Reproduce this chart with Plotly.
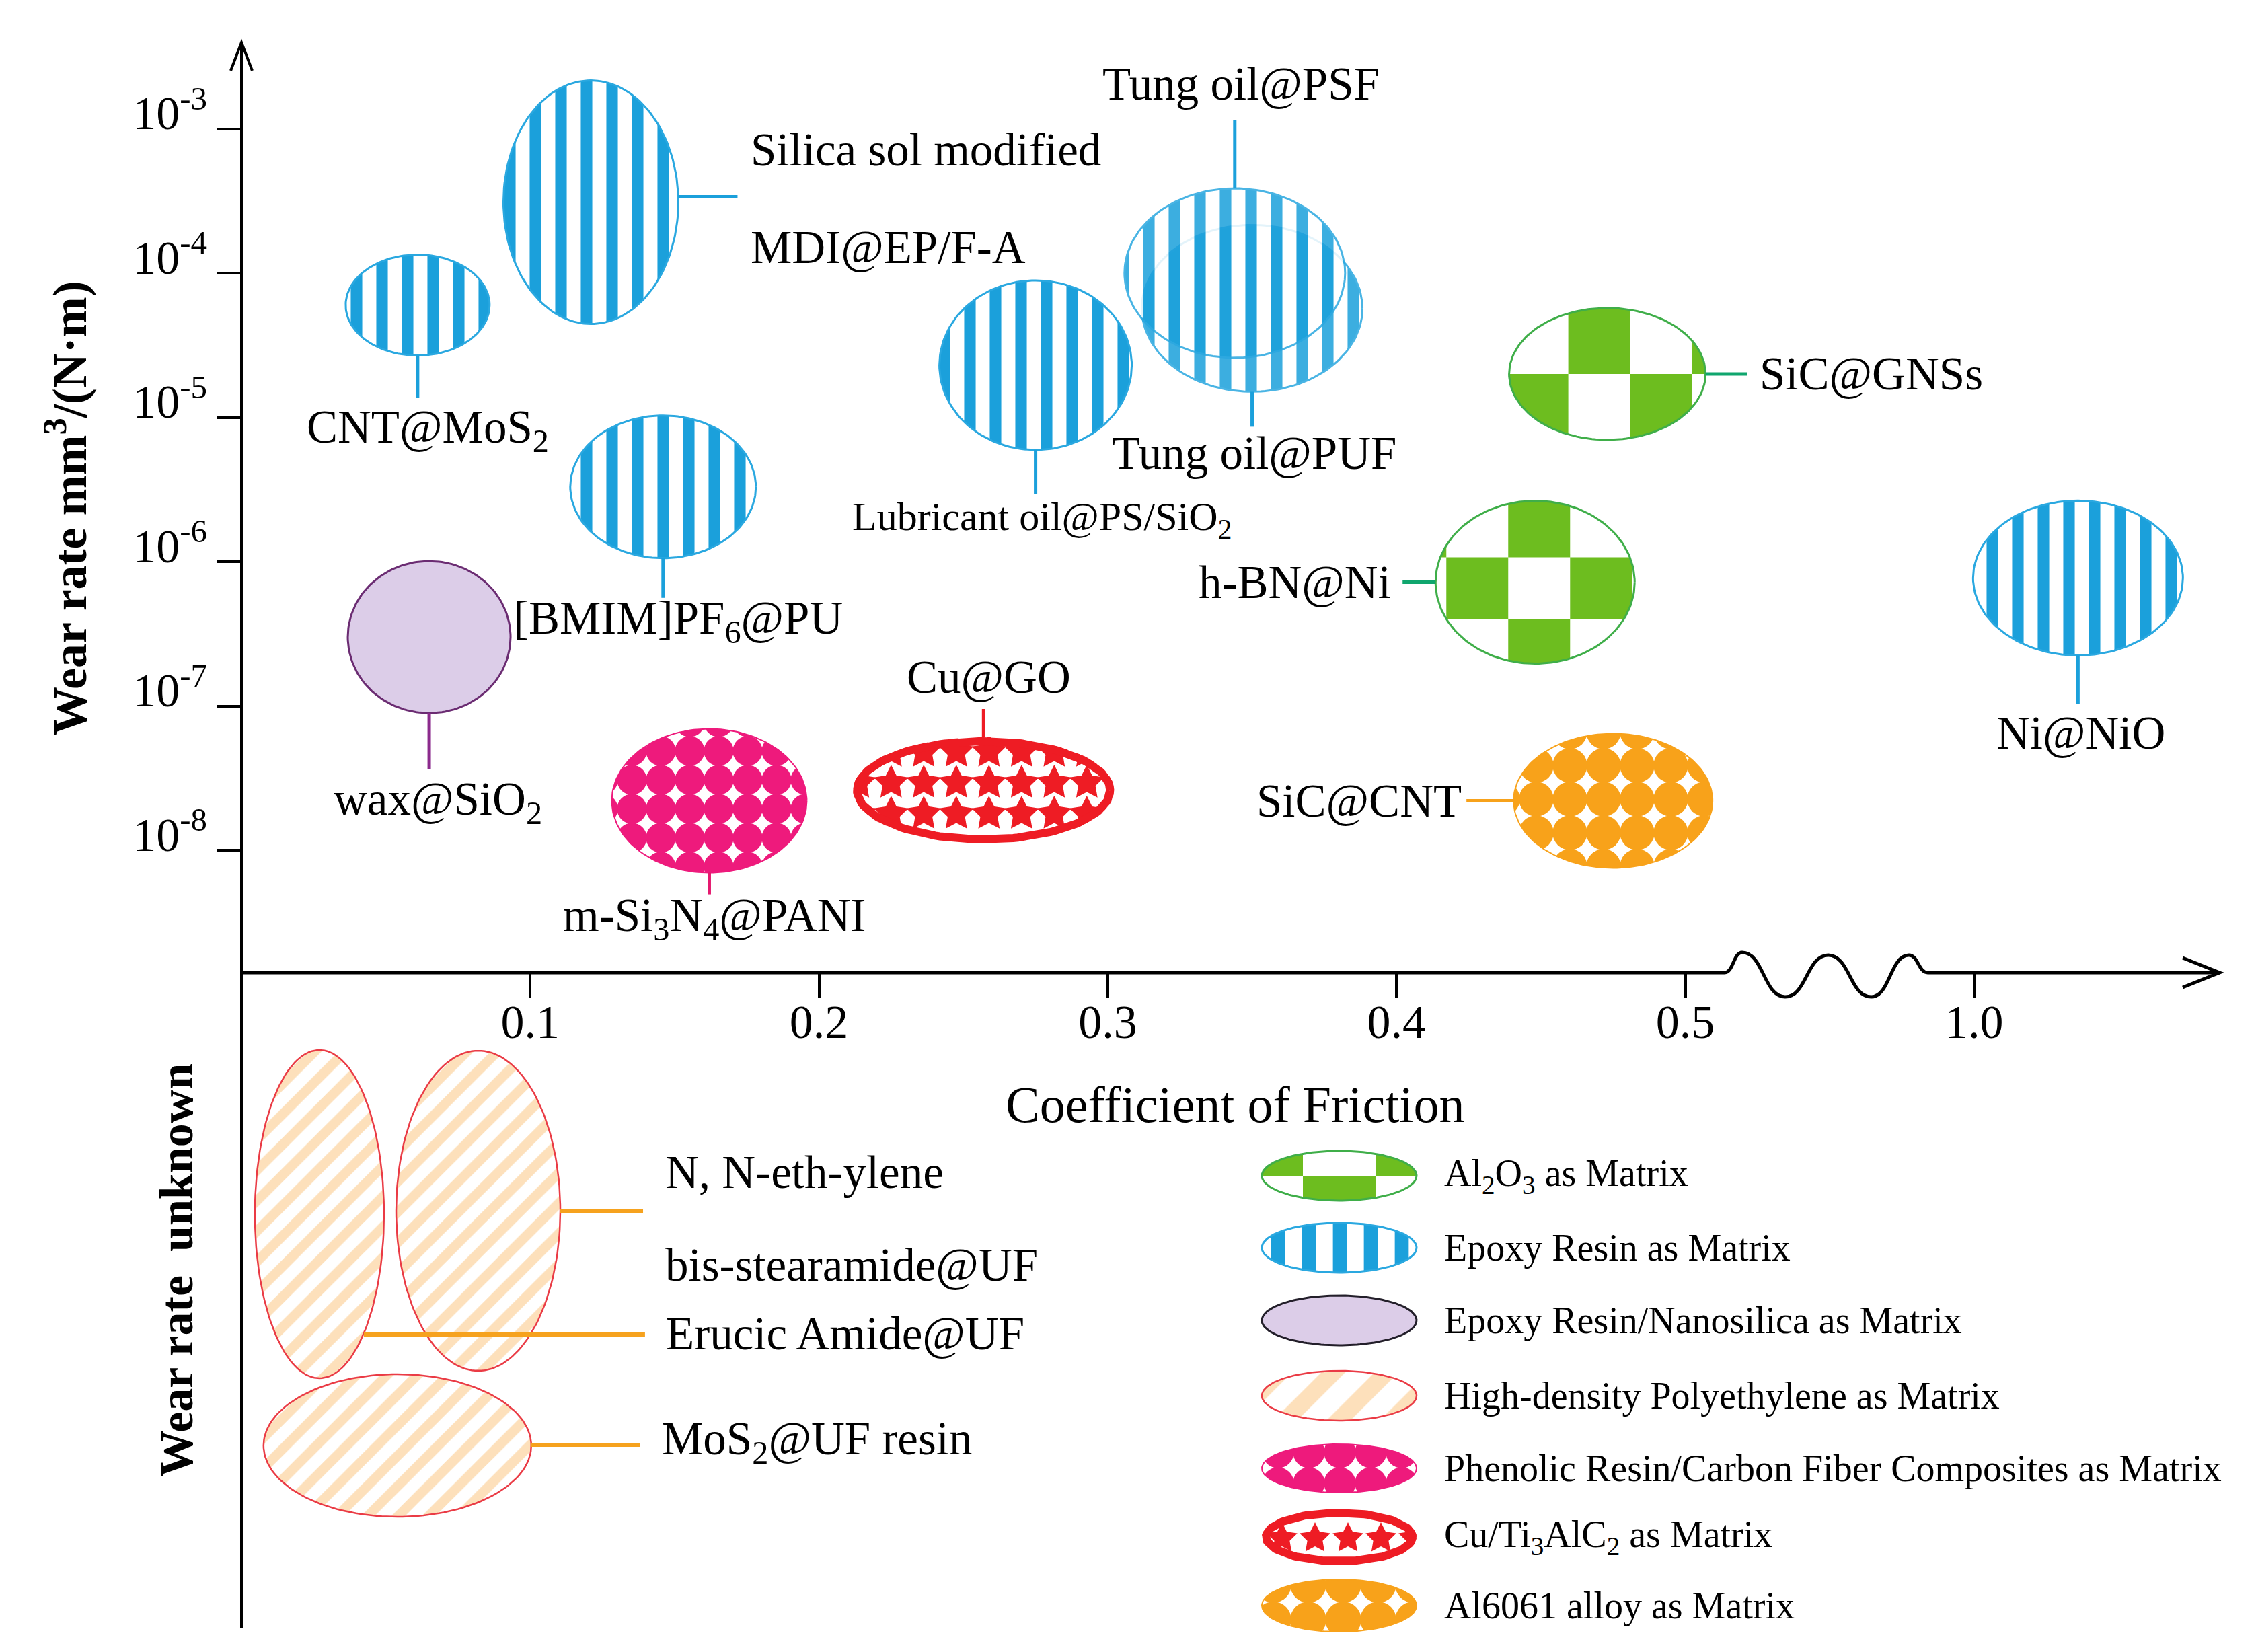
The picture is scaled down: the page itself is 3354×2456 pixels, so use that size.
import math
import numpy as np
import plotly.graph_objects as go

# ===================== DATA =====================
matrix_keys = ["al2o3", "epoxy", "nanosilica", "hdpe", "phenolic", "cu", "al6061"]
matrix_names = [
    "Al<sub>2</sub>O<sub>3</sub> as Matrix",
    "Epoxy Resin as Matrix",
    "Epoxy Resin/Nanosilica as Matrix",
    "High-density Polyethylene as Matrix",
    "Phenolic Resin/Carbon Fiber Composites as Matrix",
    "Cu/Ti<sub>3</sub>AlC<sub>2</sub> as Matrix",
    "Al6061 alloy as Matrix",
]

materials = [
    "CNT@MoS<sub>2</sub>",
    "Silica sol modified\nMDI@EP/F-A",
    "[BMIM]PF<sub>6</sub>@PU",
    "Lubricant oil@PS/SiO<sub>2</sub>",
    "Tung oil@PUF",
    "Tung oil@PSF",
    "Ni@NiO",
    "SiC@GNSs",
    "h-BN@Ni",
    "m-Si<sub>3</sub>N<sub>4</sub>@PANI",
    "Cu@GO",
    "SiC@CNT",
    "wax@SiO<sub>2</sub>",
]
material_matrix = ["epoxy", "epoxy", "epoxy", "epoxy", "epoxy", "epoxy", "epoxy",
                   "al2o3", "al2o3", "phenolic", "cu", "al6061", "nanosilica"]
friction_coef = [0.061, 0.121, 0.146, 0.275, 0.350, 0.344, 1.036,
                 0.473, 0.448, 0.162, 0.257, 0.475, 0.065]
wear_rate = [6.0e-5, 3.1e-4, 3.3e-6, 2.3e-5, 5.7e-5, 1.0e-4, 7.7e-7,
             2.0e-5, 7.2e-7, 2.2e-8, 2.6e-8, 2.2e-8, 3.0e-7]

unknown_materials = ["Erucic Amide@UF", "N, N-eth-ylene\nbis-stearamide@UF", "MoS<sub>2</sub>@UF resin"]
unknown_matrix = ["hdpe", "hdpe", "hdpe"]
unknown_cof = [0.027, 0.082, 0.054]

x_tick_vals = [0.1, 0.2, 0.3, 0.4, 0.5, 1.0]
x_tick_text = ["0.1", "0.2", "0.3", "0.4", "0.5", "1.0"]
y_tick_vals = [1e-3, 1e-4, 1e-5, 1e-6, 1e-7, 1e-8]
y_tick_text = ["10<sup>-3</sup>", "10<sup>-4</sup>", "10<sup>-5</sup>",
               "10<sup>-6</sup>", "10<sup>-7</sup>", "10<sup>-8</sup>"]

# ===================== LAYOUT CONSTANTS =====================
W, H = 3354, 2456
FONT = "Liberation Serif"
X0, K = 351.0, 4293.0          # pixel of COF 0 ; pixels per plot unit
Y8, D = 1256.0, 214.5          # pixel of 1e-8 ; pixels per decade
X_END, Y_TOP, X_AXIS_PY, Y_BOTTOM = 3292.0, 55.0, 1438.0, 2412.0
BREAK_FROM, BREAK_SHIFT = 0.55, 0.4


def plot_x(c):
    return c if c <= BREAK_FROM else c - BREAK_SHIFT


STYLE = {
    "epoxy": dict(kind="pattern", shape="|", fg="#1ba0db", size=38, sol=0.45, line="#2aa8e0", lw=3,
                  lsize=46, lead="#1ba0db"),
    "al2o3": dict(kind="checker", fg="#6dbd1f", line="#3fae49", lw=3, lead="#10a66e"),
    "nanosilica": dict(kind="solid", fg="#dccde8", line="#6b2c72", lline="#231f2a", lw=3, lead="#8b2a8c"),
    "hdpe": dict(kind="pattern", shape="/", fg="#fde0bb", size=32, sol=0.45, line="#ea3b45", lw=2.5,
                 lsize=56, lead="#f6a21e"),
    "phenolic": dict(kind="pattern", shape=".", fg="#ee1a7c", size=43, sol=0.8, line="#ee1a7c", lw=2,
                     lsize=46, lead="#e5196f"),
    "cu": dict(kind="stars", fg="#ee1c24", lw=12, lead="#ee1c24"),
    "al6061": dict(kind="pattern", shape=".", fg="#f8a21a", size=50, sol=0.8, line="#f8a21a", lw=2,
                   lsize=52, lead="#f7a21b"),
}

# per material: rx, ry (px), leader (dx1,dy1,dx2,dy2), label offsets per line (dx,dy,xanchor), font size
GEOM = [
    dict(r=(107, 75), lead=(0, 75, 0, 138), lab=[(15, 186, "center")], fs=69),
    dict(r=(130, 181), lead=(130, -8, 218, -8), lab=[(236, -78, "left"), (236, 67, "left")], fs=69),
    dict(r=(138, 106), lead=(0, 106, 0, 165), lab=[(22, 200, "center")], fs=69),
    dict(r=(143, 126), lead=(0, 126, 0, 192), lab=[(10, 230, "center")], fs=60),
    dict(r=(164, 124), lead=(0, 124, 0, 176), lab=[(3, 216, "center")], fs=69, op=0.85),
    dict(r=(164, 126), lead=(0, -126, 0, -227), lab=[(9, -281, "center")], fs=69, op=0.85),
    dict(r=(156, 115), lead=(0, 115, 0, 187), lab=[(4, 231, "center")], fs=69),
    dict(r=(146, 98), lead=(146, 0, 208, 0), lab=[(224, 0, "left")], fs=69, chk=(92, 98, -58, 0, 0)),
    dict(r=(148, 121), lead=(-148, 0, -197, 0), lab=[(-212, 0, "right")], fs=69, chk=(92, 92, -40, -55, 1)),
    dict(r=(145, 107), lead=(0, 107, 0, 139), lab=[(8, 175, "center")], fs=69),
    dict(r=(194, 79), lead=(0, -79, 0, -121), lab=[(8, -168, "center")], fs=69,
         stars=(48.5, 8, [-57, -11, 35], 27)),
    dict(r=(148, 100), lead=(-148, 0, -218, 0), lab=[(-223, 0, "right")], fs=69),
    dict(r=(121, 113), lead=(0, 113, 0, 196), lab=[(13, 245, "center")], fs=69),
]
UNK_GEOM = [
    dict(y2=659, r=(96, 244), lead=(66, 179, 484, 179), lab=[(513, 178, "left")], fs=69),
    dict(y2=664, r=(122, 238), lead=(122, 1, 245, 1), lab=[(276, -57, "left"), (276, 81, "left")], fs=69),
    dict(y2=315, r=(199, 106), lead=(198, -1, 361, -1), lab=[(391, -6, "left")], fs=69),
]
LEG_ROWS = [1740, 1847, 1955, 2067, 2175, 2277, 2379]
LEG_RY = [37, 37, 37, 37, 36, 42, 39]
LEG_CX, LEG_RX, LEG_TX = 1983, 115, 2137

fig = go.Figure()


def px_to_data(xs, ys, panel):
    xs = np.asarray(xs, float)
    ys = np.asarray(ys, float)
    x = (xs - X0) / K
    y = 10 ** (-8 + (Y8 - ys) / D) if panel == "main" else H - ys
    return x, y


def ann_xy(px, py, panel):
    x = (px - X0) / K
    y = (-8 + (Y8 - py) / D) if panel == "main" else H - py
    return x, y


def ellipse_poly(cx, cy, rx, ry, n=160):
    t = np.linspace(0, 2 * math.pi, n, endpoint=False)
    return list(zip(cx + rx * np.cos(t), cy + ry * np.sin(t)))


def shoelace(p):
    return sum(p[i][0] * p[(i + 1) % len(p)][1] - p[(i + 1) % len(p)][0] * p[i][1] for i in range(len(p)))


def inter(p, q, a, b):
    d1 = (q[0] - p[0], q[1] - p[1])
    d2 = (b[0] - a[0], b[1] - a[1])
    den = d1[0] * d2[1] - d1[1] * d2[0]
    if abs(den) < 1e-12:
        return q
    t = ((a[0] - p[0]) * d2[1] - (a[1] - p[1]) * d2[0]) / den
    return (p[0] + t * d1[0], p[1] + t * d1[1])


def clip(subject, cpoly):
    s = 1 if shoelace(cpoly) > 0 else -1
    out = list(subject)
    n = len(cpoly)
    for i in range(n):
        if not out:
            break
        a, b = cpoly[i], cpoly[(i + 1) % n]

        def ins(p):
            return s * ((b[0] - a[0]) * (p[1] - a[1]) - (b[1] - a[1]) * (p[0] - a[0])) >= 0
        inp, out = out, []
        prev = inp[-1]
        for cur in inp:
            if ins(cur):
                if not ins(prev):
                    out.append(inter(prev, cur, a, b))
                out.append(cur)
            elif ins(prev):
                out.append(inter(prev, cur, a, b))
            prev = cur
    return out


def add_polys(polys, panel, **kw):
    X, Y = [], []
    for poly in polys:
        if len(poly) < 3:
            continue
        xs, ys = zip(*poly)
        x, y = px_to_data(xs, ys, panel)
        X += list(x) + [x[0], None]
        Y += list(y) + [y[0], None]
    if X:
        fig.add_trace(go.Scatter(x=X, y=Y, xaxis="x", yaxis="y" if panel == "main" else "y2",
                                 mode="lines", fill="toself", hoverinfo="skip", showlegend=False, **kw))


def star_poly(x, y, R, ratio=0.5):
    pts = []
    for k in range(10):
        ang = -math.pi / 2 + k * math.pi / 5
        rr = R if k % 2 == 0 else R * ratio
        pts.append((x + rr * math.cos(ang), y + rr * math.sin(ang)))
    return pts


def draw_ellipse(cx, cy, rx, ry, key, panel, legend=False, chk=None, stars=None, op=1.0):
    st = STYLE[key]
    poly = ellipse_poly(cx, cy, rx, ry)
    if st["kind"] == "pattern":
        size = st["lsize"] if legend else st["size"]
        add_polys([poly], panel, fillcolor="white", opacity=op,
                  fillpattern=dict(shape=st["shape"], fgcolor=st["fg"], bgcolor="white", fgopacity=1,
                                   size=size, solidity=st["sol"], fillmode="replace"),
                  line=dict(color=st["line"], width=st["lw"]))
    elif st["kind"] == "solid":
        lc = st.get("lline", st["line"]) if legend else st["line"]
        add_polys([poly], panel, fillcolor=st["fg"], line=dict(color=lc, width=st["lw"]))
    elif st["kind"] == "checker":
        cw, ch, xo, yo, ph = chk
        add_polys([poly], panel, fillcolor="white", line=dict(width=0))
        cells = []
        for i in range(-5, 6):
            for j in range(-5, 6):
                if (i + j + ph) % 2 == 0:
                    x1 = xo + i * cw
                    x2 = x1 + cw
                    y1 = yo + j * ch
                    y2 = y1 + ch
                    sq = [(cx + x1, cy - y1), (cx + x2, cy - y1), (cx + x2, cy - y2), (cx + x1, cy - y2)]
                    c = clip(sq, poly)
                    if len(c) >= 3:
                        cells.append(c)
        add_polys(cells, panel, fillcolor=st["fg"], line=dict(width=0))
        add_polys([poly], panel, fillcolor="rgba(0,0,0,0)", line=dict(color=st["line"], width=st["lw"]))
    elif st["kind"] == "stars":
        sx, xo, rows, R = stars
        add_polys([poly], panel, fillcolor="white", line=dict(width=0))
        sp = []
        for dy in rows:
            for k in range(-6, 7):
                c = clip(star_poly(cx + xo + k * sx, cy + dy, R), poly)
                if len(c) >= 3:
                    sp.append(c)
        add_polys(sp, panel, fillcolor=st["fg"], line=dict(width=0))
        inner = ellipse_poly(cx, cy, rx - st["lw"] / 2, ry - st["lw"] / 2)
        add_polys([inner], panel, fillcolor="rgba(0,0,0,0)", line=dict(color=st["fg"], width=st["lw"]))


annotations = []
leaders = []


def label_item(cx, cy, g, text, key, panel):
    dx1, dy1, dx2, dy2 = g["lead"]
    leaders.append(([cx + dx1, cx + dx2], [cy + dy1, cy + dy2], STYLE[key]["lead"], panel,
                    6 if key == "hdpe" else 5))
    for line_txt, (ldx, ldy, xa) in zip(text.split("\n"), g["lab"]):
        ax, ay = ann_xy(cx + ldx, cy + ldy, panel)
        annotations.append(dict(x=ax, y=ay, xref="x", yref="y" if panel == "main" else "y2",
                                text=line_txt, showarrow=False, xanchor=xa, yanchor="middle",
                                font=dict(family=FONT, size=g["fs"], color="black")))


# ---- materials with known wear rate ----
for name, key, c, w, g in zip(materials, material_matrix, friction_coef, wear_rate, GEOM):
    cx = X0 + plot_x(c) * K
    cy = Y8 - (math.log10(w) + 8) * D
    draw_ellipse(cx, cy, g["r"][0], g["r"][1], key, "main", chk=g.get("chk"), stars=g.get("stars"),
                 op=g.get("op", 1.0))
    label_item(cx, cy, g, name, key, "main")

# ---- wear rate unknown ----
for name, key, c, g in zip(unknown_materials, unknown_matrix, unknown_cof, UNK_GEOM):
    cx = X0 + plot_x(c) * K
    cy = H - g["y2"]
    draw_ellipse(cx, cy, g["r"][0], g["r"][1], key, "low")
    label_item(cx, cy, g, name, key, "low")

for xs, ys, col, panel, lw in leaders:
    x, y = px_to_data(xs, ys, panel)
    fig.add_trace(go.Scatter(x=x, y=y, xaxis="x", yaxis="y" if panel == "main" else "y2", mode="lines",
                             line=dict(color=col, width=lw), hoverinfo="skip", showlegend=False))

# ---- legend (manual swatches) ----
for key, lname, ry_, yrow in zip(matrix_keys, matrix_names, LEG_RY, LEG_ROWS):
    draw_ellipse(LEG_CX, yrow, LEG_RX, ry_, key, "low", legend=True,
                 chk=(109, 40, -54, 0, 1), stars=(49, 13, [2], 24))
    ax, ay = ann_xy(LEG_TX, yrow, "low")
    annotations.append(dict(x=ax, y=ay, xref="x", yref="y2", text=lname, showarrow=False,
                            xanchor="left", yanchor="middle", font=dict(family=FONT, size=56, color="black")))

# ---- axis titles ----
annotations.append(dict(x=90 / W, y=1 - 747 / H, xref="paper", yref="paper", textangle=-90,
                        xanchor="center", yanchor="middle",
                        text="<b>Wear rate mm<sup>3</sup>/(N·m)</b>", showarrow=False,
                        font=dict(family=FONT, size=72, color="black")))
annotations.append(dict(x=255 / W, y=1 - 1881 / H, xref="paper", yref="paper", textangle=-90,
                        xanchor="center", yanchor="middle",
                        text="<b>Wear rate\u00a0\u00a0unknown</b>", showarrow=False,
                        font=dict(family=FONT, size=70, color="black")))
annotations.append(dict(x=1828 / W, y=1 - 1634 / H, xref="paper", yref="paper",
                        xanchor="center", yanchor="middle",
                        text="Coefficient of Friction", showarrow=False,
                        font=dict(family=FONT, size=76, color="black")))


# ---- hand-drawn axes (arrows, wavy break) ----
def P(px, py):
    return f"{px / W:.6f},{1 - py / H:.6f}"


wave = [(2556, X_AXIS_PY), (2582, 1408), (2646, 1474), (2710, 1412), (2774, 1474), (2830, 1412),
        (2858, X_AXIS_PY)]
path = f"M {P(X0, X_AXIS_PY)} L {P(*wave[0])}"
for (x1, y1), (x2, y2) in zip(wave[:-1], wave[1:]):
    dx = (x2 - x1) * 0.5
    path += f" C {P(x1 + dx, y1)} {P(x2 - dx, y2)} {P(x2, y2)}"
path += f" L {P(X_END, X_AXIS_PY)}"
shapes = [
    dict(type="path", xref="paper", yref="paper", path=path, line=dict(color="black", width=5)),
    dict(type="path", xref="paper", yref="paper",
         path=f"M {P(X_END - 55, X_AXIS_PY - 22)} L {P(X_END, X_AXIS_PY)} L {P(X_END - 55, X_AXIS_PY + 22)}",
         line=dict(color="black", width=5)),
    dict(type="path", xref="paper", yref="paper", path=f"M {P(X0, Y_BOTTOM)} L {P(X0, Y_TOP)}",
         line=dict(color="black", width=4)),
    dict(type="path", xref="paper", yref="paper",
         path=f"M {P(X0 - 16, Y_TOP + 42)} L {P(X0, Y_TOP)} L {P(X0 + 16, Y_TOP + 42)}",
         line=dict(color="black", width=4)),
]

fig.update_layout(
    width=W, height=H, autosize=False,
    margin=dict(l=0, r=0, t=0, b=0),
    paper_bgcolor="white", plot_bgcolor="rgba(0,0,0,0)",
    showlegend=False, hovermode=False,
    font=dict(family=FONT, color="black"),
    xaxis=dict(domain=[X0 / W, X_END / W], range=[0, (X_END - X0) / K],
               tickvals=[plot_x(v) for v in x_tick_vals], ticktext=x_tick_text,
               ticks="outside", ticklen=36, tickwidth=4, tickcolor="black",
               tickfont=dict(family=FONT, size=70, color="black"),
               showline=False, showgrid=False, zeroline=False, anchor="y", fixedrange=True),
    yaxis=dict(type="log", domain=[(H - X_AXIS_PY) / H, (H - Y_TOP) / H],
               range=[-8 - (X_AXIS_PY - Y8) / D, -8 + (Y8 - Y_TOP) / D],
               tickvals=y_tick_vals, ticktext=y_tick_text,
               ticks="outside", ticklen=36, tickwidth=4, tickcolor="black",
               tickfont=dict(family=FONT, size=70, color="black"), ticklabelshift=-24,
               showline=False, showgrid=False, zeroline=False, anchor="x", fixedrange=True),
    yaxis2=dict(domain=[0, (H - X_AXIS_PY) / H], range=[0, H - X_AXIS_PY], visible=False,
                anchor="x", fixedrange=True),
    annotations=annotations,
    shapes=shapes,
)
try:
    fig.layout.xaxis.ticklabelstandoff = -24
except Exception:
    pass

fig.write_html("out.html")
